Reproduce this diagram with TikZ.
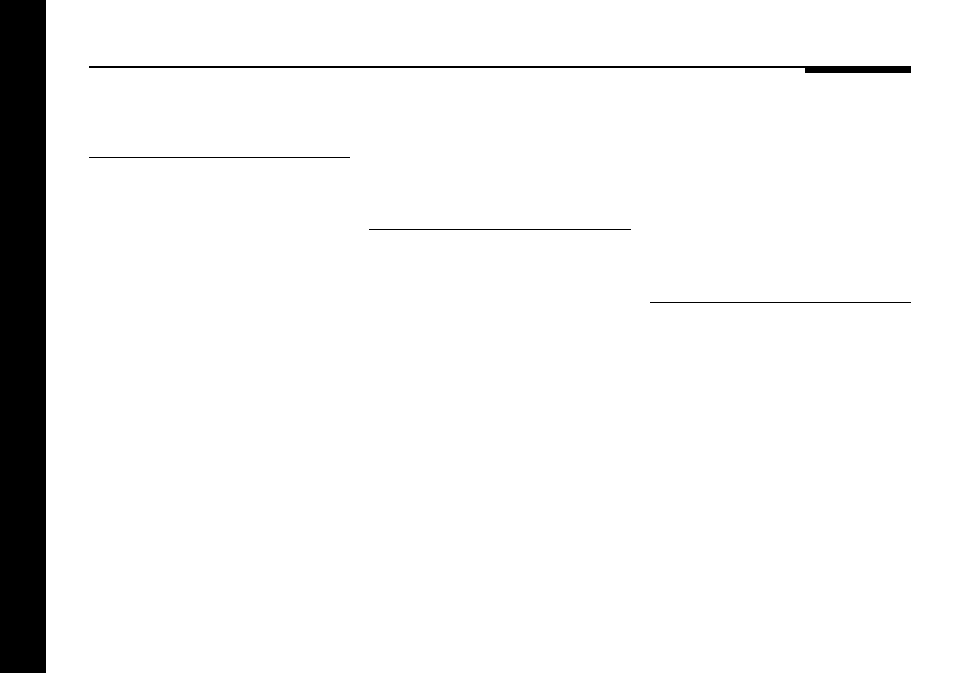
\documentclass[tikz,border=0pt]{standalone}
\begin{document}
\begin{tikzpicture}[x=0.75pt,y=-0.75pt,
  rule/.style={draw=black,line width=0.9pt,line cap=butt},
  toprule/.style={draw=black,line width=1.3pt,line cap=butt},
  solidblk/.style={fill=black,draw=none}]
\useasboundingbox (0,0) rectangle (954,672);
\fill[white] (0,0) rectangle (954,672);
% left black band
\path[solidblk] (-2,-2) rectangle (46,675);
% top rule and tab
\coordinate (tl) at (89,66.8);
\coordinate (tr) at (911,66.8);
\draw[toprule] (tl) -- (tr);
\path[solidblk] (805,66.3) rectangle (911,72.5);
% staggered heading rules
\coordinate (a1) at (89,157.3);
\coordinate (a2) at (350,157.3);
\coordinate (b1) at (369,229.3);
\coordinate (b2) at (631,229.3);
\coordinate (c1) at (650,302.8);
\coordinate (c2) at (911,302.8);
\draw[rule] (a1) -- (a2);
\draw[rule] (b1) -- (b2);
\draw[rule] (c1) -- (c2);
\end{tikzpicture}
\end{document}
